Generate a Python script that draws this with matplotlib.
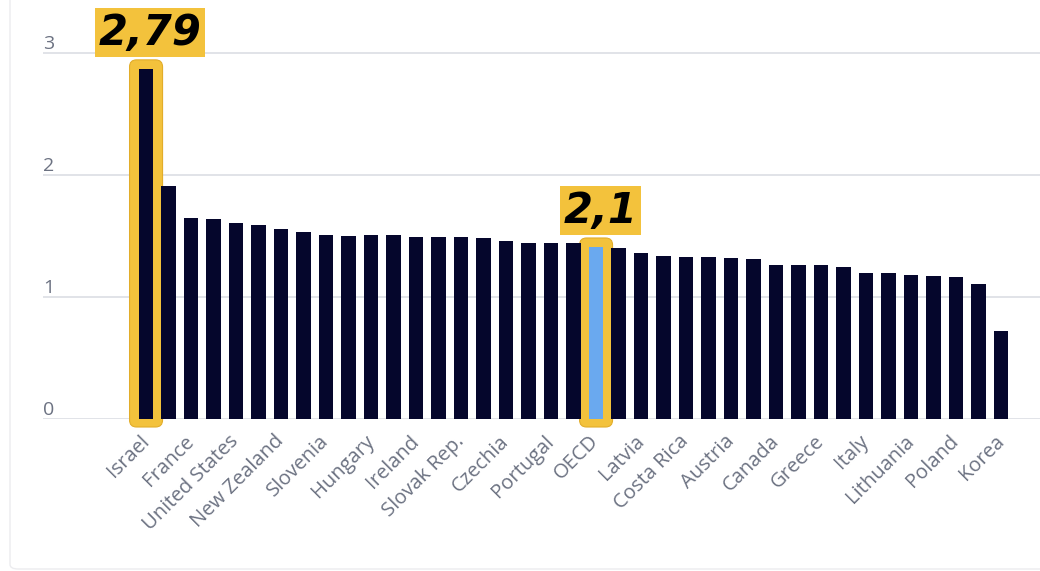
import matplotlib
matplotlib.use("Agg")
import matplotlib.pyplot as plt
import numpy as np
from matplotlib.patches import FancyBboxPatch

# Countries in chart order (only every other name is shown on the axis)
countries = [
    "Israel", "Mexico", "France", "Türkiye", "United States", "Australia",
    "New Zealand", "Iceland", "Slovenia", "Denmark", "Hungary", "Sweden",
    "Ireland", "Colombia", "Slovak Rep.", "Belgium", "Czechia", "Netherlands",
    "Portugal", "Germany", "OECD", "United Kingdom", "Latvia", "Estonia",
    "Costa Rica", "Norway", "Austria", "Switzerland", "Canada", "Luxembourg",
    "Greece", "Chile", "Italy", "Finland", "Lithuania", "Japan",
    "Poland", "Spain", "Korea",
]
values = [
    2.87, 1.91, 1.65, 1.64, 1.61, 1.59,
    1.56, 1.53, 1.51, 1.50, 1.51, 1.51,
    1.49, 1.49, 1.49, 1.48, 1.46, 1.44,
    1.44, 1.44, 1.41, 1.40, 1.36, 1.34,
    1.33, 1.33, 1.32, 1.31, 1.26, 1.26,
    1.26, 1.25, 1.20, 1.20, 1.18, 1.17,
    1.16, 1.11, 0.72,
]
highlights = {"Israel": "2,79", "OECD": "2,1"}
yticks = [0, 1, 2, 3]

navy = "#05062c"
blue = "#6aa9ef"
yellow = "#f3c23c"
grid_col = "#dcdee4"
label_col = "#6c7282"

fig = plt.figure(figsize=(10.4, 5.71), dpi=100)
fig.patch.set_facecolor("white")

# faint card border
card = FancyBboxPatch((10 / 1040, 2 / 571), 1.2, 1.2,
                      boxstyle="round,pad=0,rounding_size=0.008",
                      transform=fig.transFigure, facecolor="none",
                      edgecolor="#ececef", linewidth=1.0, zorder=0)
fig.patches.append(card)

ax = fig.add_axes([43 / 1040, (571 - 419) / 571, 1 - 43 / 1040, 396 / 571])
x = np.arange(len(countries))
ax.set_xlim(-4.58, 39.73)
ax.set_ylim(0, 3.246)

colors = [blue if c == "OECD" else navy for c in countries]
ax.bar(x, values, width=0.64, color=colors, zorder=3)

# pixel <-> data scale for the highlight frames
fig.canvas.draw()
p0 = ax.transData.transform((0, 0))
p1 = ax.transData.transform((1, 1))
px_x = p1[0] - p0[0]
px_y = p1[1] - p0[1]

for name, text in highlights.items():
    i = countries.index(name)
    v = values[i]
    half_w = 16.5 / px_x
    bottom = -8 / px_y
    top = v + 9 / px_y
    frame = FancyBboxPatch((i - half_w, bottom), 2 * half_w, top - bottom,
                           boxstyle="round,pad=0,rounding_size=%f" % (7 / px_x),
                           mutation_aspect=px_x / px_y,
                           facecolor=yellow, edgecolor="#e2ad2a",
                           linewidth=0.8, zorder=2, clip_on=False)
    ax.add_patch(frame)
    ax.annotate(text, xy=(i, v), xytext=(3, 11), textcoords="offset points",
                ha="center", va="bottom", fontsize=30, fontweight="bold",
                fontstyle="italic", family="DejaVu Sans",
                color="black", zorder=5, annotation_clip=False,
                bbox=dict(boxstyle="square,pad=0.08", facecolor=yellow,
                          edgecolor="none"))

# grid
ax.set_yticks(yticks)
ax.yaxis.grid(True, color=grid_col, linewidth=1.2, zorder=0)
ax.set_axisbelow(True)
for s in ax.spines.values():
    s.set_visible(False)
ax.tick_params(axis="y", length=0, pad=0, labelsize=14, labelcolor=label_col)
for lab in ax.get_yticklabels():
    lab.set_horizontalalignment("left")
    lab.set_verticalalignment("bottom")
    lab.set_family("Open Sans")

ax.set_xticks(x[::2])
ax.set_xticklabels(countries[::2], rotation=45, ha="right",
                   rotation_mode="anchor", va="center",
                   family="Open Sans", fontsize=14.5, color=label_col)
ax.tick_params(axis="x", length=0, pad=14)

fig.savefig("out.png", dpi=100, facecolor="white")
